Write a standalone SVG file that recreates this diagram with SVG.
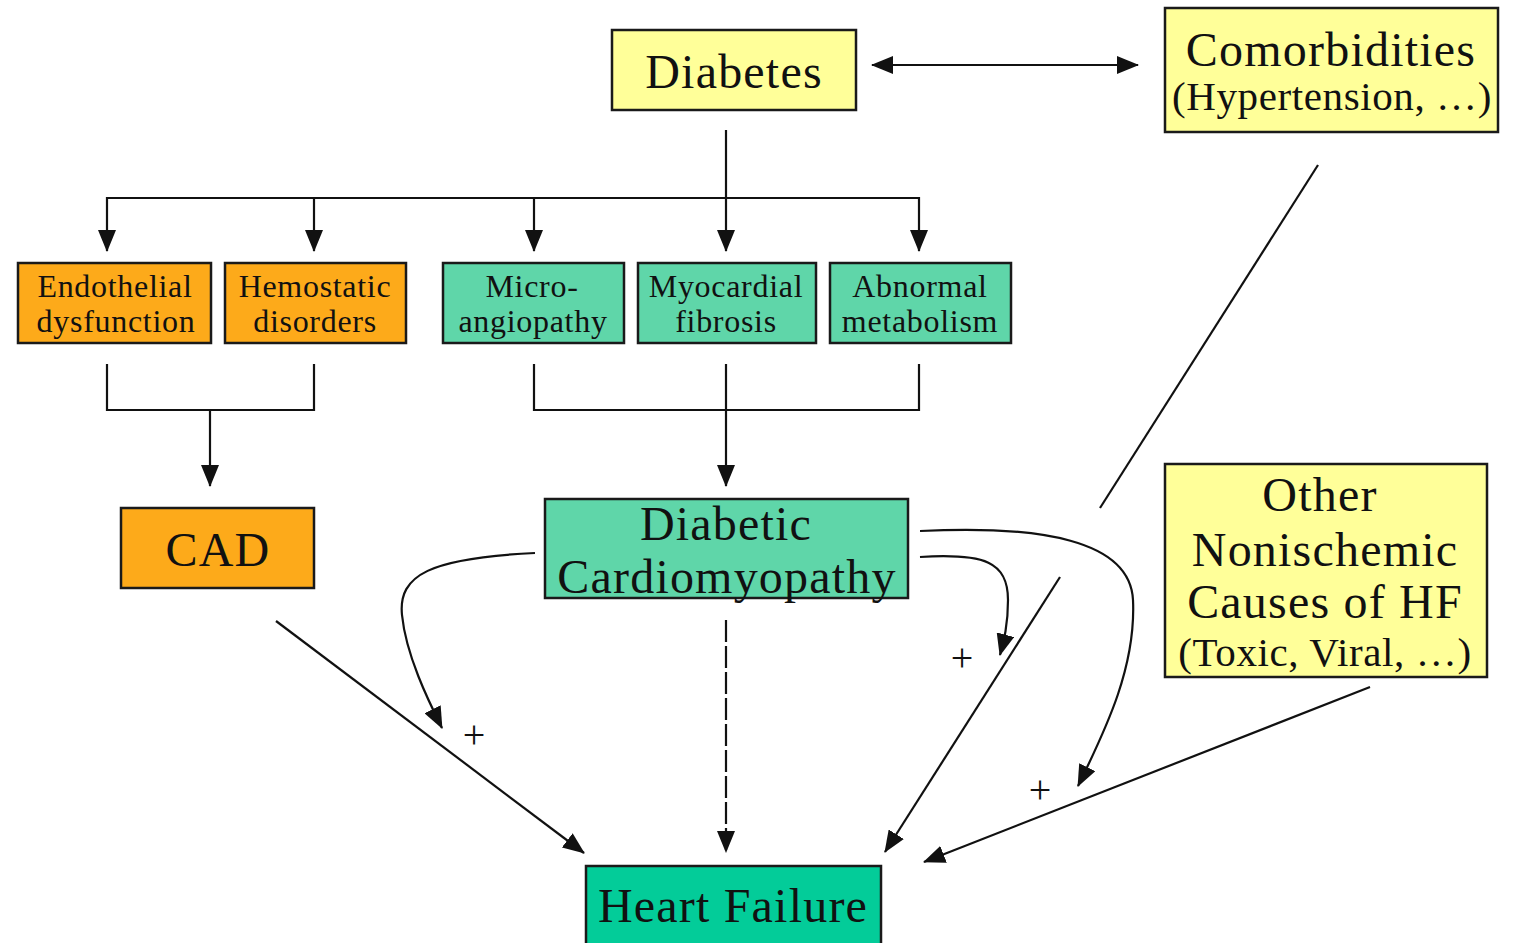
<svg xmlns="http://www.w3.org/2000/svg" width="1514" height="943" viewBox="0 0 1514 943" font-family="'Liberation Serif', 'DejaVu Serif', 'Times New Roman', serif">
<style>
.box{stroke:#1a1a1a;stroke-width:2.5}
.yel{fill:#FFFF99}
.org{fill:#FDAA1A}
.teal{fill:#5FD6A9}
.hf{fill:#03CC99}
text{font-family:'Liberation Serif','DejaVu Serif','Times New Roman',serif;fill:#111;text-anchor:middle}
.big{font-size:48px;letter-spacing:1.2px}
.med{font-size:41px;letter-spacing:0.6px}
.sm{font-size:32px;letter-spacing:0.7px}
.ln{fill:none;stroke:#111;stroke-width:2.2}
.plus{font-size:40px}
</style>
<defs>
<marker id="ah" viewBox="0 0 22 18" refX="21" refY="9" markerWidth="22" markerHeight="18" markerUnits="userSpaceOnUse" orient="auto-start-reverse">
<path d="M0,0 L22,9 L0,18 Z" fill="#111"/>
</marker>
</defs>
<rect width="1514" height="943" fill="#fff"/>

<g id="connectors">
<line class="ln" x1="872" y1="65" x2="1138" y2="65" marker-start="url(#ah)" marker-end="url(#ah)"/>
<line class="ln" x1="726" y1="130" x2="726" y2="251" marker-end="url(#ah)"/>
<polyline class="ln" points="107,251 107,198 919,198 919,251" marker-start="url(#ah)" marker-end="url(#ah)"/>
<line class="ln" x1="314" y1="198" x2="314" y2="251" marker-end="url(#ah)"/>
<line class="ln" x1="534" y1="198" x2="534" y2="251" marker-end="url(#ah)"/>
<polyline class="ln" points="107,364 107,410 314,410 314,364"/>
<line class="ln" x1="210" y1="410" x2="210" y2="486" marker-end="url(#ah)"/>
<polyline class="ln" points="534,364 534,410 919,410 919,364"/>
<line class="ln" x1="726" y1="364" x2="726" y2="486" marker-end="url(#ah)"/>
<line class="ln" x1="276" y1="621" x2="584" y2="853" marker-end="url(#ah)"/>
<line class="ln" x1="726" y1="620" x2="726" y2="852" stroke-dasharray="22 4" marker-end="url(#ah)"/>
<path class="ln" d="M535,553 C430,558 398,575 402,615 C406,655 428,700 442,728" marker-end="url(#ah)"/>
<path class="ln" d="M920,557 C985,553 1008,562 1008,600 C1008,625 1004,640 1000,655" marker-end="url(#ah)"/>
<path class="ln" d="M920,531 C1040,525 1130,540 1133,600 C1136,665 1108,725 1078,786" marker-end="url(#ah)"/>
<line class="ln" x1="1318" y1="165" x2="1100" y2="508"/>
<line class="ln" x1="1060" y1="577" x2="885" y2="852" marker-end="url(#ah)"/>
<line class="ln" x1="1370" y1="687" x2="924" y2="862" marker-end="url(#ah)"/>
<text class="plus" x="474" y="748">+</text>
<text class="plus" x="962" y="671">+</text>
<text class="plus" x="1040" y="803">+</text>
</g>

<g id="diabetes">
<rect class="box yel" x="612" y="30" width="244" height="80"/>
<text class="big" x="734" y="88">Diabetes</text>
</g>
<g id="comorbidities">
<rect class="box yel" x="1165" y="8" width="333" height="124"/>
<text class="big" x="1331" y="66">Comorbidities</text>
<text class="med" x="1332" y="110">(Hypertension, …)</text>
</g>
<g id="endothelial">
<rect class="box org" x="18" y="263" width="193" height="80"/>
<text class="sm" x="115" y="297">Endothelial</text>
<text class="sm" x="116" y="332">dysfunction</text>
</g>
<g id="hemostatic">
<rect class="box org" x="225" y="263" width="181" height="80"/>
<text class="sm" x="315" y="297">Hemostatic</text>
<text class="sm" x="315" y="332">disorders</text>
</g>
<g id="microangiopathy">
<rect class="box teal" x="443" y="263" width="181" height="80"/>
<text class="sm" x="532" y="297">Micro-</text>
<text class="sm" x="533" y="332">angiopathy</text>
</g>
<g id="fibrosis">
<rect class="box teal" x="638" y="263" width="178" height="80"/>
<text class="sm" x="726" y="297">Myocardial</text>
<text class="sm" x="726" y="332">fibrosis</text>
</g>
<g id="metabolism">
<rect class="box teal" x="830" y="263" width="181" height="80"/>
<text class="sm" x="920" y="297">Abnormal</text>
<text class="sm" x="920" y="332">metabolism</text>
</g>
<g id="cad">
<rect class="box org" x="121" y="508" width="193" height="80"/>
<text class="big" x="218" y="566">CAD</text>
</g>
<g id="dcm">
<rect class="box teal" x="545" y="499" width="363" height="99"/>
<text class="big" x="726" y="540">Diabetic</text>
<text class="big" x="727" y="593">Cardiomyopathy</text>
</g>
<g id="other">
<rect class="box yel" x="1165" y="464" width="322" height="213"/>
<text class="big" x="1320" y="511">Other</text>
<text class="big" x="1325" y="566">Nonischemic</text>
<text class="big" x="1325" y="618">Causes of HF</text>
<text class="med" x="1325" y="666">(Toxic, Viral, …)</text>
</g>
<g id="heartfailure">
<rect class="box hf" x="586" y="866" width="295" height="80"/>
<text class="big" x="733" y="922">Heart Failure</text>
</g>
</svg>
